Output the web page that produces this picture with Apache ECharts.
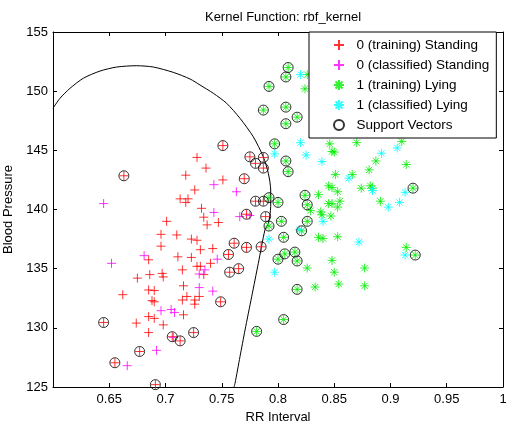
<!DOCTYPE html>
<html>
<head>
<meta charset="utf-8">
<script src="https://cdn.jsdelivr.net/npm/echarts@6/dist/echarts.min.js"></script>
<style>
  html, body { margin: 0; padding: 0; background: #fff; }
  #graph { width: 510px; height: 424px; }
</style>
</head>
<body>
<div id="graph"></div>
<script>
// class 0 training (not support vectors)
const standingTrain = [
  [0.728,144.4],[0.736,143.5],[0.718,142.9],[0.751,142.5],[0.726,141.65],[0.713,140.9],
  [0.720,140.9],[0.718,140.6],[0.732,140.1],[0.734,139.35],[0.737,138.7],[0.747,138.9],
  [0.701,139.0],[0.696,137.9],[0.710,137.85],[0.723,137.5],[0.728,137.4],[0.731,136.6],
  [0.742,136.7],[0.696,136.9],[0.711,136.0],[0.723,135.95],[0.740,135.45],[0.728,135.2],
  [0.731,135.2],[0.715,134.9],[0.734,134.5],[0.686,134.5],[0.675,134.2],[0.697,134.6],
  [0.698,134.3],[0.716,133.55],[0.685,133.2],[0.690,133.15],[0.662,132.8],[0.688,132.3],
  [0.690,132.2],[0.715,132.35],[0.719,132.65],[0.726,132.35],[0.730,132.65],[0.726,132.0],
  [0.716,131.1],[0.685,130.95],[0.690,130.8],[0.674,130.4],[0.698,130.25],[0.685,129.6],
  [0.685,135.75]
];
// class 0 training, support vectors
const standingSV = [
  [0.663,142.85],[0.751,145.4],[0.775,144.45],[0.780,143.9],[0.787,144.4],[0.787,143.5],
  [0.770,142.6],[0.780,140.7],[0.787,140.7],[0.772,139.6],[0.789,139.4],[0.761,137.15],
  [0.772,136.8],[0.785,136.85],[0.756,136.2],[0.757,134.7],[0.765,135.0],[0.749,132.2],
  [0.645,130.45],[0.706,129.25],[0.713,128.9],[0.725,129.6],[0.677,128.0],[0.655,127.05],
  [0.691,125.2]
];
const standingClassified = [
  [0.645,140.5],[0.652,135.45],[0.743,142.1],[0.763,141.5],[0.743,139.75],[0.766,139.4],
  [0.775,139.5],[0.681,136.1],[0.746,135.8],[0.730,134.55],[0.735,134.9],[0.730,133.4],
  [0.742,133.1],[0.696,131.45],[0.705,131.55],[0.708,131.3],[0.692,128.1],[0.666,126.8],
  [0.707,129.2]
];
// class 1 training (not support vectors)
const lyingTrain = [
  [0.826,151.4],[0.824,150.2],[0.846,145.55],[0.848,144.9],[0.850,144.85],[0.870,145.65],
  [0.910,145.75],[0.914,143.8],[0.887,144.1],[0.881,143.35],[0.851,142.95],[0.866,142.95],
  [0.845,142.0],[0.848,141.85],[0.836,141.25],[0.853,141.5],[0.855,140.7],[0.874,141.8],
  [0.882,142.0],[0.884,141.8],[0.891,140.7],[0.845,140.5],[0.853,140.2],[0.829,139.9],
  [0.838,139.8],[0.839,139.55],[0.847,139.45],[0.848,140.5],[0.836,137.65],[0.840,137.55],
  [0.853,137.7],[0.914,136.8],[0.826,135.05],[0.848,135.7],[0.850,134.7],[0.877,135.05],
  [0.833,133.45],[0.854,133.7],[0.877,133.55]
];
const lyingSV = [
  [0.809,152.0],[0.807,151.2],[0.792,150.4],[0.787,148.4],[0.807,148.65],[0.807,147.25],
  [0.817,147.8],[0.797,145.55],[0.807,144.1],[0.809,143.2],[0.792,141.0],[0.800,140.6],
  [0.824,141.2],[0.826,140.4],[0.792,138.6],[0.803,139.0],[0.826,139.0],[0.821,138.2],
  [0.805,137.65],[0.815,136.4],[0.806,136.25],[0.800,135.8],[0.817,135.65],[0.817,133.25],
  [0.805,130.7],[0.781,129.7],[0.920,141.8],[0.922,136.15]
];
const lyingClassified = [
  [0.820,151.4],[0.820,145.65],[0.825,144.6],[0.839,144.05],[0.797,144.7],[0.892,144.75],
  [0.906,145.2],[0.863,142.65],[0.884,141.6],[0.913,141.45],[0.898,140.2],[0.908,140.6],
  [0.840,139.0],[0.819,138.3],[0.792,137.5],[0.872,137.25],[0.913,136.15],[0.797,134.7]
];
// decision boundary
const boundary = [
  [0.600,148.55],[0.6062,149.40],[0.6151,150.24],[0.6269,151.09],[0.6418,151.70],
  [0.6566,152.04],[0.6744,152.15],[0.6892,152.04],[0.7069,151.59],[0.7218,151.03],
  [0.7307,150.52],[0.7425,149.82],[0.7544,148.97],[0.7662,147.71],[0.7780,146.15],
  [0.7869,144.46],[0.7914,143.06],[0.7935,141.65],[0.7935,140.24],[0.7914,138.83],
  [0.7884,138.27],[0.7825,135.45],[0.7766,132.63],[0.7707,129.82],[0.7662,127.56],
  [0.7618,125.31],[0.7609,125.0]
];

const chart = echarts.init(document.getElementById('graph'));
const font = 'Liberation Sans, Arial, sans-serif';
const plus = 'path://M0,5L10,5M5,0L5,10';
const star = 'path://M0,5L10,5M5,0L5,10M1.5,1.5L8.5,8.5M8.5,1.5L1.5,8.5';

function markers(name, data, symbol, color) {
  return {
    name: name, type: 'scatter', data: data, symbol: symbol, symbolSize: 9,
    itemStyle: { color: color, borderColor: color, borderWidth: 1 },
    emphasis: { disabled: true }
  };
}

const axisCommon = {
  type: 'value',
  axisLine: { show: true, onZero: false, lineStyle: { color: '#000', width: 1 } },
  axisTick: { show: true, inside: true, length: 4, lineStyle: { color: '#000' } },
  splitLine: { show: false }
};

const option = {
  animation: false,
  backgroundColor: '#fff',
  textStyle: { fontFamily: font },
  title: {
    text: 'Kernel Function: rbf_kernel', left: 278, top: 6, textAlign: 'center',
    textStyle: { fontSize: 13, fontWeight: 'normal', color: '#000', fontFamily: font }
  },
  grid: { left: 53, right: 7, top: 32, bottom: 37, outerBoundsMode: 'none' },
  legend: {
    orient: 'vertical', left: 309, top: 32,
    padding: [6, 7, 6, 24], itemGap: 6, itemWidth: 25, itemHeight: 10,
    backgroundColor: '#fff', borderColor: '#000', borderWidth: 1, borderRadius: 0,
    textStyle: { fontSize: 13.5, color: '#000', fontFamily: font },
    data: ['0 (training) Standing', '0 (classified) Standing', '1 (training) Lying',
           '1 (classified) Lying', 'Support Vectors']
  },
  xAxis: [
    Object.assign({}, axisCommon, {
      position: 'bottom', min: 0.6, max: 1, interval: 0.05,
      name: 'RR Interval', nameLocation: 'middle', nameGap: 24,
      nameTextStyle: { fontSize: 13, color: '#000', fontFamily: font },
      axisLabel: {
        color: '#000', fontSize: 13, margin: 6, fontFamily: font,
        formatter: v => (Math.abs(v - 0.6) < 1e-9 ? '' : String(parseFloat(v.toFixed(2))))
      }
    }),
    Object.assign({}, axisCommon, {
      position: 'top', min: 0.6, max: 1, interval: 0.05, axisLabel: { show: false }
    })
  ],
  yAxis: [
    Object.assign({}, axisCommon, {
      position: 'left', min: 125, max: 155, interval: 5,
      name: 'Blood Pressure', nameLocation: 'middle', nameGap: 34,
      nameTextStyle: { fontSize: 13, color: '#000', fontFamily: font },
      axisLabel: { color: '#000', fontSize: 13, margin: 5, fontFamily: font }
    }),
    Object.assign({}, axisCommon, {
      position: 'right', min: 125, max: 155, interval: 5, axisLabel: { show: false }
    })
  ],
  series: [
    {
      name: 'boundary', type: 'line', data: boundary, smooth: 0.25, symbol: 'none',
      lineStyle: { color: '#000', width: 1 }, silent: true, z: 1
    },
    markers('0 (training) Standing', standingTrain.concat(standingSV), plus, '#ff0000'),
    markers('0 (classified) Standing', standingClassified, plus, '#ff00ff'),
    markers('1 (training) Lying', lyingTrain.concat(lyingSV), star, '#00ee00'),
    markers('1 (classified) Lying', lyingClassified, star, '#00ffff'),
    {
      name: 'Support Vectors', type: 'scatter', data: standingSV.concat(lyingSV),
      symbol: 'circle', symbolSize: 10,
      itemStyle: { color: 'rgba(0,0,0,0)', borderColor: '#000', borderWidth: 1 },
      emphasis: { disabled: true }
    }
  ]
};

option && chart.setOption(option);
</script>
</body>
</html>
